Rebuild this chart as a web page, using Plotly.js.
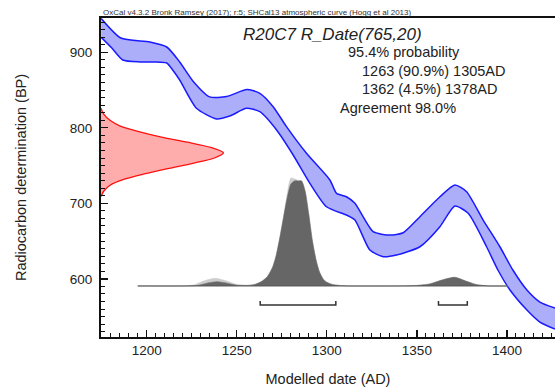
<!DOCTYPE html>
<html>
<head>
<meta charset="utf-8">
<script src="https://cdn.plot.ly/plotly-3.0.1.min.js"></script>
<style>html,body{margin:0;padding:0;background:#fff}#chart{width:555px;height:387px}</style>
</head>
<body>
<div id="chart"></div>
<script>
// Calibration curve band (SHCal13), upper and lower edges: year AD, BP
const bandUpperYear = [1174.7,1185.6,1201.7,1211.1,1218.3,1225.6,1235.0,1244.4,1255.6,1262.8,1270.2,1277.6,1288.7,1301.7,1305.4,1310.9,1315.6,1325.7,1335.0,1342.4,1351.7,1362.8,1371.1,1377.6,1386.8,1396.1,1403.3,1411.1,1418.3,1426.7];
const bandUpperBP   = [944.8,918.9,913.6,907.0,887.2,862.1,840.9,841.5,850.7,845.7,828.0,801.5,766.2,730.9,713.2,708.7,700.0,662.4,658.0,661.1,682.3,708.7,724.2,715.4,677.9,642.5,611.7,585.2,569.3,561.3];
const bandLowerYear = [1174.7,1180.6,1186.7,1196.1,1204.4,1211.1,1214.4,1218.3,1227.6,1238.7,1246.1,1255.4,1262.8,1272.1,1281.3,1290.6,1299.8,1310.9,1315.6,1323.9,1331.3,1338.7,1351.7,1362.8,1371.1,1378.5,1388.7,1395.0,1401.7,1411.1,1418.3,1426.7];
const bandLowerBP   = [919.9,905.7,889.8,887.2,887.2,885.8,876.6,863.3,825.8,811.7,815.6,825.8,821.3,797.1,764.0,726.5,695.5,684.5,677.9,638.1,629.3,631.5,642.5,669.0,696.4,686.8,642.5,611.7,585.2,558.7,542.8,533.6];

// Radiocarbon measurement R_Date(765,20): BP and drawn width (years)
const rdateBP    = [826,818,810,802,795,788,781,774,767,760,753,746,739,732,724,716,709];
const rdateWidth = [0,1.5,5,11,21,33,48,61,68,63,51,37,24,13,5,1.5,0];

// Calibrated probability (relative %, max = 100)
const postYear = [1195,1220,1228,1234,1239,1244,1250,1256,1260,1264,1267,1270,1272,1274,1276,1278,1280,1282,1284,1286,1288,1290,1292,1294,1296,1298,1300,1303,1307,1312,1340,1350,1357,1364,1371,1377,1383,1390,1400.5];
const postProb = [0,0,0.5,2.9,4.1,2.9,0.8,0.5,1.5,4.5,9,18.4,30,47,66,84,97,100,100,100,90,68,43,25,13,6.5,3.5,1.5,0.5,0,0,0.5,1.9,5.7,8.3,4.8,1.4,0,0];
const priorYear = [1195,1220,1226,1232,1238,1244,1250,1256,1260,1264,1267,1270,1272,1274,1276,1278,1280,1282,1284,1286,1288,1290,1292,1294,1296,1298,1300,1303,1307,1312,1340,1350,1357,1364,1371,1377,1383,1390,1400.5];
const priorProb = [0,0,1,5,7.3,5,1.5,0.8,1.5,4.5,9,18.4,30,47,66,88,102.8,102,100.5,100,90,68,43,25,13,6.5,3.5,1.5,0.5,0,0,0.5,1.9,5.7,8.3,4.8,1.4,0,0];

// 95.4% ranges
const rangeStart = [1263,1362];
const rangeEnd   = [1305,1378];

const xTitle = "Modelled date (AD)";
const yTitle = "Radiocarbon determination (BP)";
const topNote = "OxCal v4.3.2 Bronk Ramsey (2017); r:5; SHCal13 atmospheric curve (Hogg et al 2013)";
const sampleTitle = "R20C7 R_Date(765,20)";
const infoLines = ["95.4% probability","1263 (90.9%) 1305AD","1362 (4.5%) 1378AD","Agreement 98.0%"];

const X0 = 1174.6, X1 = 1426.7;
const traces = [];

// band
traces.push({x: bandLowerYear, y: bandLowerBP, type:'scatter', mode:'lines',
  line:{color:'#1a1aff', width:1.5, shape:'spline', smoothing:0.6}, hoverinfo:'skip', showlegend:false});
traces.push({x: bandUpperYear, y: bandUpperBP, type:'scatter', mode:'lines', fill:'tonexty',
  fillcolor:'rgb(172,174,250)',
  line:{color:'#1a1aff', width:1.5, shape:'spline', smoothing:0.6}, hoverinfo:'skip', showlegend:false});

// red measurement distribution
traces.push({x: rdateWidth.map(w => X0 + w), y: rdateBP, type:'scatter', mode:'lines', fill:'toself',
  fillcolor:'rgb(255,172,172)', line:{color:'#ff1010', width:1.3, shape:'spline', smoothing:0.8},
  hoverinfo:'skip', showlegend:false});

// probability distributions (secondary axis)
traces.push({x: priorYear, y: priorProb, yaxis:'y2', type:'scatter', mode:'lines', fill:'tozeroy',
  fillcolor:'rgb(205,205,205)', line:{color:'rgb(205,205,205)', width:0.5, shape:'spline', smoothing:0.6},
  hoverinfo:'skip', showlegend:false});
traces.push({x: postYear, y: postProb, yaxis:'y2', type:'scatter', mode:'lines', fill:'tozeroy',
  fillcolor:'rgb(102,102,102)', line:{color:'rgb(102,102,102)', width:0.5, shape:'spline', smoothing:0.6},
  hoverinfo:'skip', showlegend:false});
// baseline
traces.push({x: [postYear[0], postYear[postYear.length-1]], y:[0,0], yaxis:'y2', type:'scatter', mode:'lines',
  line:{color:'#555', width:1}, hoverinfo:'skip', showlegend:false});
// brackets
rangeStart.forEach((s,i) => {
  traces.push({x:[s,s,rangeEnd[i],rangeEnd[i]], y:[-14.3,-18.1,-18.1,-14.3], yaxis:'y2', type:'scatter', mode:'lines',
    line:{color:'#333', width:1.5}, hoverinfo:'skip', showlegend:false});
});

const font = 'Liberation Sans, Arial, sans-serif';
const L = 101, T = 18, W = 454, H = 319;
function px(x){ return (x - L) / W; }
function py(y){ return (T + H - y) / H; }

const annotations = [
  {text: topNote, x: px(101), y: 1, xref:'paper', yref:'paper', xanchor:'left', yanchor:'bottom', showarrow:false,
   font:{family:font, size:8, color:'#333'}, yshift:-1},
  {text: '<i>'+sampleTitle+'</i>', x: px(332), y: py(35), xref:'paper', yref:'paper', xanchor:'center', yanchor:'middle',
   showarrow:false, font:{family:font, size:17, color:'#222'}},
  {text: infoLines[0], x: px(346), y: py(52), xref:'paper', yref:'paper', xanchor:'left', yanchor:'middle', showarrow:false, font:{family:font, size:14.5, color:'#222'}},
  {text: infoLines[1], x: px(360), y: py(70.5), xref:'paper', yref:'paper', xanchor:'left', yanchor:'middle', showarrow:false, font:{family:font, size:14.5, color:'#222'}},
  {text: infoLines[2], x: px(360), y: py(89), xref:'paper', yref:'paper', xanchor:'left', yanchor:'middle', showarrow:false, font:{family:font, size:14.5, color:'#222'}},
  {text: infoLines[3], x: px(338), y: py(108), xref:'paper', yref:'paper', xanchor:'left', yanchor:'middle', showarrow:false, font:{family:font, size:14.5, color:'#222'}}
];

const layout = {
  width:555, height:387,
  margin:{l:L, r:0, t:T, b:387-T-H, pad:0},
  paper_bgcolor:'#fff', plot_bgcolor:'#fff',
  showlegend:false,
  xaxis:{range:[X0, X1], tick0:1200, dtick:50, ticks:'inside', ticklen:7, tickwidth:1.3, tickcolor:'#111',
    showline:true, linewidth:2, linecolor:'#111', mirror:true, showgrid:false, zeroline:false,
    minor:{dtick:5, tick0:1200, ticks:'inside', ticklen:4, tickwidth:1, tickcolor:'#111', showgrid:false},
    tickfont:{family:font, size:13.5, color:'#222'},
    title:{text:xTitle, font:{family:font, size:14.5, color:'#222'}, standoff:18}, automargin:false},
  yaxis:{range:[523, 945.4], tick0:0, dtick:100, ticks:'inside', ticklen:7, tickwidth:1.3, tickcolor:'#111',
    showline:true, linewidth:2, linecolor:'#111', showgrid:false, zeroline:false,
    minor:{dtick:10, tick0:0, ticks:'inside', ticklen:4, tickwidth:1, tickcolor:'#111', showgrid:false},
    tickfont:{family:font, size:13.5, color:'#222'}, ticklabelstandoff:4,
    title:{text:yTitle, font:{family:font, size:14.5, color:'#222'}, standoff:40}, automargin:false},
  yaxis2:{overlaying:'y', range:[-48.6, 255.2], visible:false, showgrid:false, zeroline:false, fixedrange:true},
  annotations: annotations
};

Plotly.newPlot('chart', traces, layout, {displayModeBar:false, staticPlot:true});
</script>
</body>
</html>
